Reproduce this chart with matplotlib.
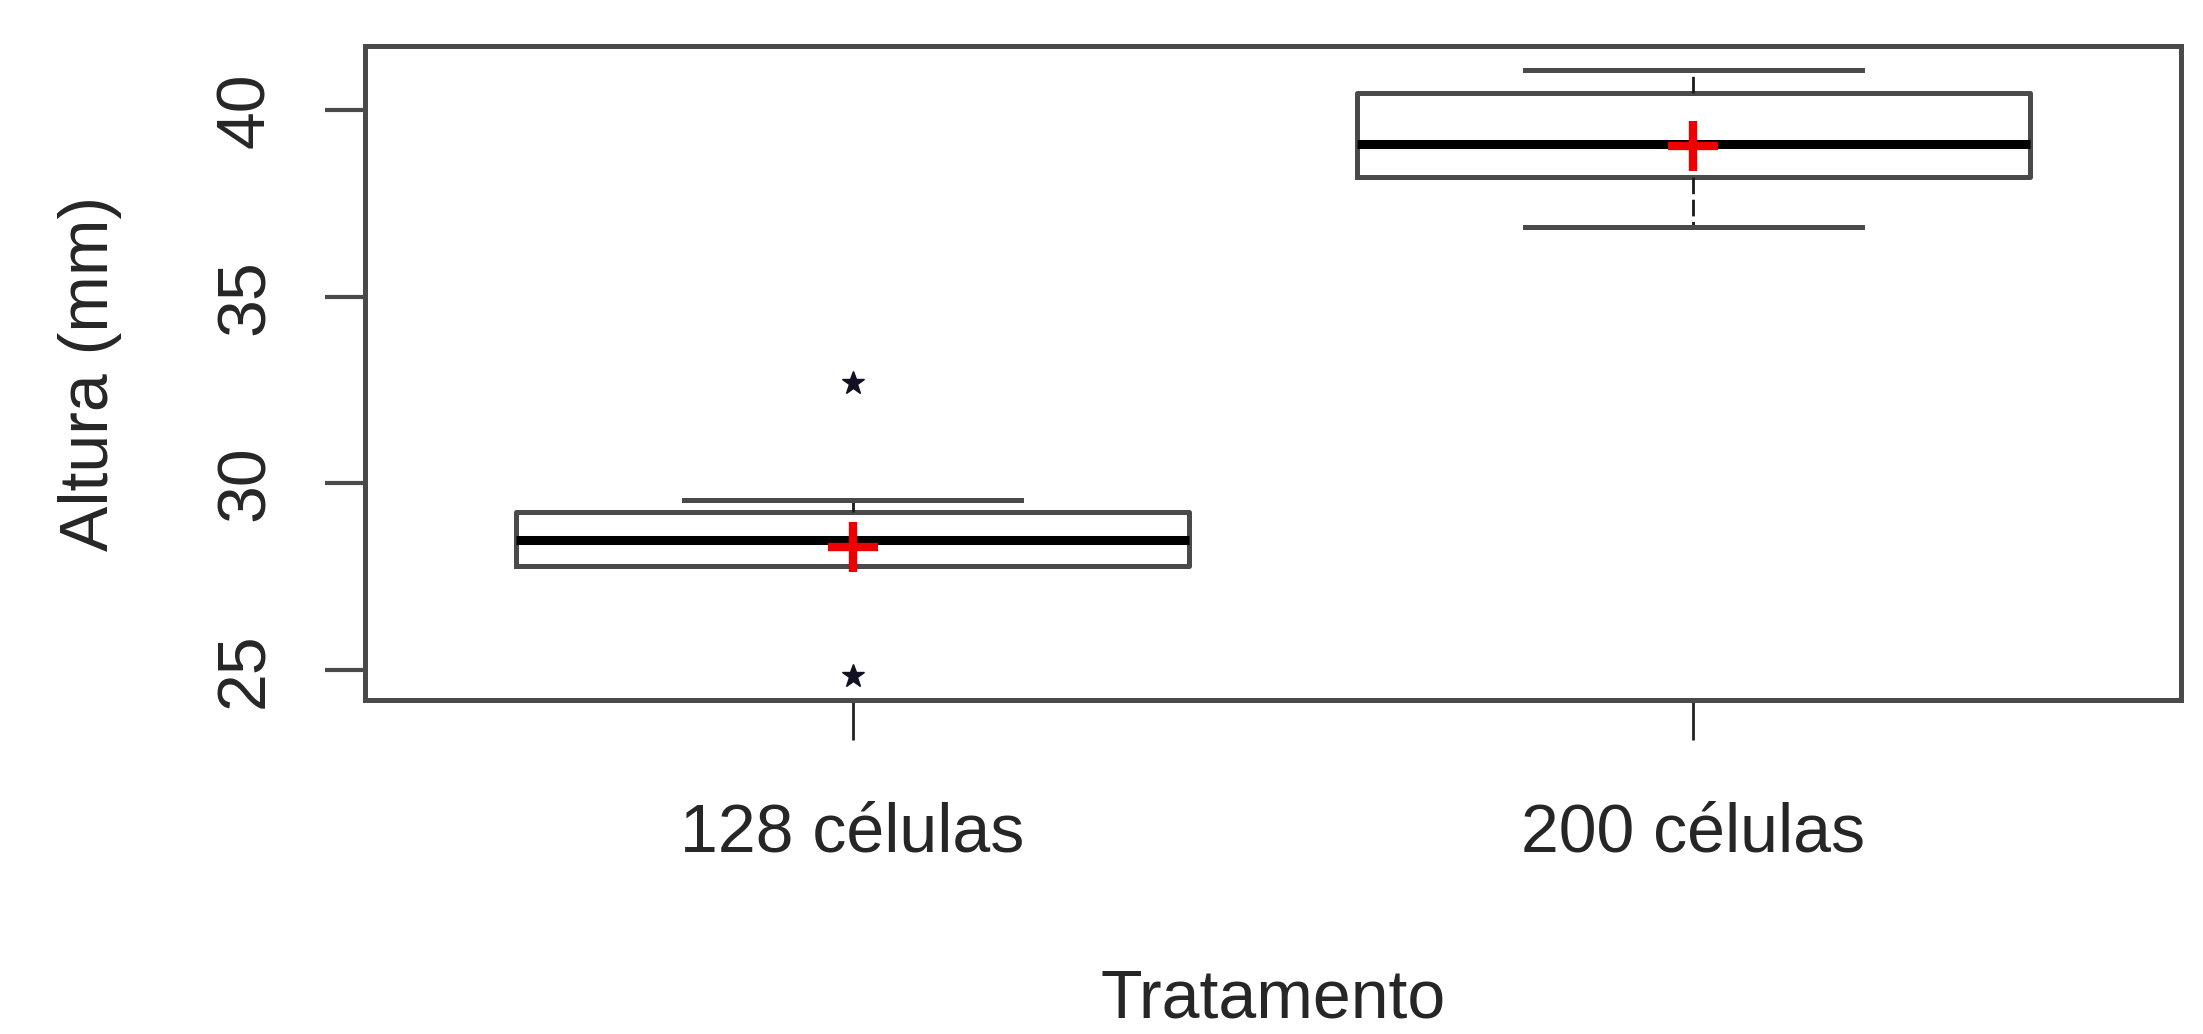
import matplotlib
matplotlib.use("Agg")
from matplotlib import pyplot as plt
from matplotlib import font_manager

# valeurs
categories = ["128 células", "200 células"]
q1 = [27.79, 38.22]
medians = [28.48, 39.08]
q3 = [29.23, 40.47]
whis_low = [27.79, 36.87]
whis_high = [29.54, 41.07]
means = [28.30, 39.05]
outliers = [[32.68, 24.84], []]
yticks = [25, 30, 35, 40]

names = {f.name for f in font_manager.fontManager.ttflist}
fam = "Liberation Sans Narrow" if "Liberation Sans Narrow" in names else "Liberation Sans"
plt.rcParams["font.family"] = [fam, "DejaVu Sans"]
fs = 56 if fam == "Liberation Sans Narrow" else 49
txt_col = "#262626"
line_col = "#4a4a4a"

stats = []
for i, lab in enumerate(categories):
    stats.append({"label": lab, "q1": q1[i], "med": medians[i], "q3": q3[i],
                  "whislo": whis_low[i], "whishi": whis_high[i],
                  "mean": means[i], "fliers": outliers[i]})

fig = plt.figure(figsize=(22.03, 10.34), dpi=100)
ax = fig.add_axes([365 / 2203, 1 - 700 / 1034, (2181 - 365) / 2203, (700 - 46) / 1034])

ax.bxp(stats, positions=[1, 2], widths=0.8, capwidths=0.4, showmeans=True,
       boxprops=dict(color=line_col, linewidth=3.6),
       medianprops=dict(color="black", linewidth=6.5),
       whiskerprops=dict(color="#1a1a1a", linewidth=2.0, linestyle=(0, (6, 2))),
       capprops=dict(color=line_col, linewidth=3.6),
       flierprops=dict(marker="*", markersize=17, markerfacecolor="#111122",
                       markeredgecolor="#111122"),
       meanprops=dict(marker="+", markersize=36, markeredgewidth=6,
                      markeredgecolor="#ee0000"))

ax.set_xlim(0.42, 2.58)
ax.set_ylim(24.19, 41.72)
ax.set_yticks(yticks)
ax.set_yticklabels([str(t) for t in yticks], rotation=90, va="center")
for s in ax.spines.values():
    s.set_color(line_col)
    s.set_linewidth(3.6)
ax.tick_params(axis="both", length=29, width=3.0, color=line_col,
               labelsize=fs, labelcolor=txt_col)
ax.tick_params(axis="x", width=2.0, color="#222222", pad=44)
ax.tick_params(axis="y", pad=34)

ax.set_xlabel("Tratamento", fontsize=fs, color=txt_col)
ax.set_ylabel("Altura (mm)", fontsize=fs, color=txt_col)
ax.xaxis.set_label_coords(0.5, (700 - 1000) / 654)
ax.xaxis.label.set_va("center")
ax.yaxis.set_label_coords((90 - 365) / 1816, 0.5)
ax.yaxis.label.set_va("center")

fig.savefig("out.png", dpi=100)
